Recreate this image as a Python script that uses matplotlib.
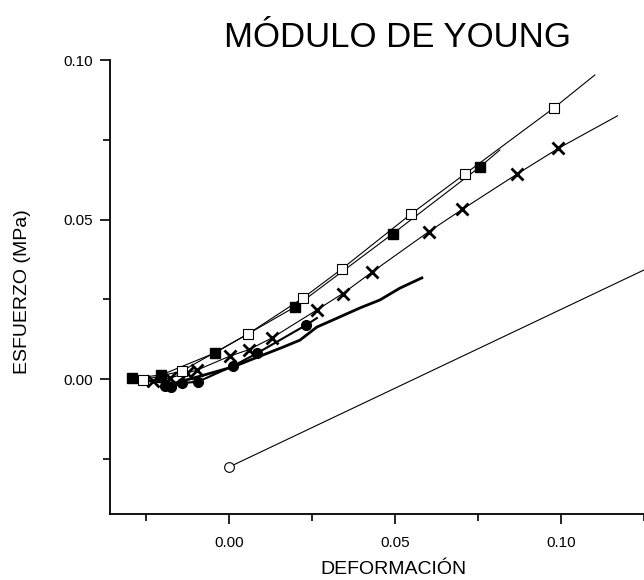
import matplotlib
matplotlib.use("Agg")
import matplotlib.pyplot as plt
from matplotlib.ticker import MultipleLocator, FormatStrFormatter

plt.rcParams['font.family'] = ['Liberation Sans', 'DejaVu Sans']

# Open-square series (line points; markers on all but last)
sq_open_x = [-0.0259, -0.0142, 0.0057, 0.0223, 0.0340, 0.0548, 0.0711, 0.0979, 0.1102]
sq_open_y = [-0.0003, 0.0025, 0.0141, 0.0254, 0.0345, 0.0517, 0.0643, 0.0850, 0.0953]

# Filled-square series
sq_fill_x = [-0.0293, -0.0203, -0.0042, 0.0199, 0.0493, 0.0756, 0.0816]
sq_fill_y = [0.0002, 0.0013, 0.0082, 0.0226, 0.0455, 0.0665, 0.0718]

# Cross series
cross_x = [-0.0229, -0.0178, -0.0127, -0.0096, 0.0003, 0.0060, 0.0130, 0.0264, 0.0343,
           0.0432, 0.0602, 0.0703, 0.0867, 0.0992, 0.1170]
cross_y = [-0.0006, 0.0003, 0.0019, 0.0028, 0.0072, 0.0092, 0.0129, 0.0216, 0.0268,
           0.0336, 0.0462, 0.0532, 0.0642, 0.0723, 0.0825]

# Filled-circle series
circ_x = [-0.0193, -0.0173, -0.0142, -0.0092, 0.0013, 0.0085, 0.0232, 0.0265]
circ_y = [-0.0022, -0.0026, -0.0013, -0.0008, 0.0041, 0.0081, 0.0169, 0.0191]

# Thick line series (no markers)
thick_x = [-0.0238, -0.0163, -0.0087, 0.0012, 0.0087, 0.0163, 0.0214, 0.0265, 0.0313,
           0.0395, 0.0455, 0.0515, 0.0581]
thick_y = [-0.0006, -0.0013, 0.0009, 0.0038, 0.0069, 0.0100, 0.0122, 0.0163, 0.0185,
           0.0223, 0.0248, 0.0285, 0.0317]

# Straight reference line with open circle at start
ref_x = [0.0, 0.14]
ref_y = [-0.0276, 0.0416]

x_ticks = [0.00, 0.05, 0.10]
y_ticks = [0.00, 0.05, 0.10]

fig = plt.figure(figsize=(6.44, 5.80), dpi=100)
ax = fig.add_axes([110/644, 66/580, 534/644, 454/580])

ax.plot(ref_x, ref_y, color='black', lw=0.8, marker='o', markersize=7,
        markerfacecolor='white', markeredgecolor='black', markeredgewidth=0.8,
        markevery=[0], zorder=2)
ax.plot(thick_x, thick_y, color='black', lw=2.0, zorder=3)
ax.plot(circ_x, circ_y, color='black', lw=1.5, marker='o', markersize=7,
        markevery=list(range(len(circ_x) - 1)), zorder=4)
ax.plot(cross_x, cross_y, color='black', lw=0.8, marker='x', markersize=9,
        markeredgewidth=2.0, markevery=list(range(len(cross_x) - 1)), zorder=4)
ax.plot(sq_fill_x, sq_fill_y, color='black', lw=0.8, marker='s', markersize=7,
        markevery=list(range(len(sq_fill_x) - 1)), zorder=5)
ax.plot(sq_open_x, sq_open_y, color='black', lw=0.8, marker='s', markersize=7,
        markerfacecolor='white', markeredgecolor='black', markeredgewidth=0.8,
        markevery=list(range(len(sq_open_x) - 1)), zorder=5)

ax.set_xlim(-0.0358, 0.125)
ax.set_ylim(-0.0423, 0.100)

ax.set_xticks(x_ticks)
ax.set_yticks(y_ticks)
ax.xaxis.set_minor_locator(MultipleLocator(0.025))
ax.yaxis.set_minor_locator(MultipleLocator(0.025))
ax.xaxis.set_major_formatter(FormatStrFormatter('%.2f'))
ax.yaxis.set_major_formatter(FormatStrFormatter('%.2f'))

for s in ['top', 'right']:
    ax.spines[s].set_visible(False)
for s in ['left', 'bottom']:
    ax.spines[s].set_linewidth(1.3)

ax.tick_params(which='major', direction='out', length=7, width=1.2, labelsize=11, pad=5)
ax.tick_params(axis='x', which='major', pad=9)
ax.tick_params(which='minor', direction='out', length=5, width=1.2)

ax.set_xlabel('DEFORMACIÓN', fontsize=14)
ax.set_ylabel('ESFUERZO (MPa)', fontsize=14)
ax.xaxis.set_label_coords((393 - 110) / 534, (514 - 561) / 454)
ax.yaxis.set_label_coords((31 - 110) / 534, 0.49)

fig.text(397/644, 1 - 47/580, 'MÓDULO DE YOUNG', ha='center', va='baseline', fontsize=25)

fig.savefig('out.png', dpi=100)
